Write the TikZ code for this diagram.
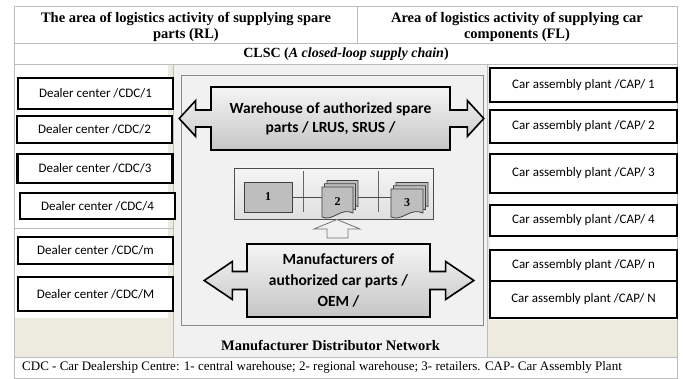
\documentclass[tikz,border=0pt]{standalone}
\usepackage{fontspec}
\setmainfont{Liberation Serif}
\newfontfamily\calibri{Carlito}
\usepackage{xcolor}
\definecolor{tablegrid}{HTML}{BDBDBD}
\definecolor{creamcol}{HTML}{EDEADF}
\definecolor{netgray}{HTML}{F1F1F1}
\definecolor{framegray}{HTML}{8A8A8A}
\definecolor{storegray}{HTML}{BEBEBE}
\usetikzlibrary{arrows.meta,positioning,shapes.arrows,calc}

\tikzset{
  dealerbox/.style={draw=black,line width=2.3pt,fill=white,minimum width=155pt,inner sep=0pt,
    font=\calibri\fontsize{13}{15}\selectfont},
  plantbox/.style={draw=black,line width=2.6pt,fill=white,minimum width=187pt,inner sep=0pt,
    font=\calibri\fontsize{13}{15}\selectfont},
  flowarrow/.style={arrow box,draw=black,line width=1.6pt,top color=gray!8,bottom color=gray!45,
    align=center,inner sep=0pt,font=\calibri\bfseries\fontsize{15.5}{19}\selectfont},
  headtext/.style={align=center,inner sep=0pt,font=\bfseries\fontsize{14.5}{16}\selectfont},
  page/.style={draw=black!75,line width=0.8pt,fill=storegray},
  storenum/.style={inner sep=0pt,font=\bfseries\fontsize{12}{14}\selectfont},
}

% one sheet with a wavy lower edge
\newcommand{\docsheet}[4]{%
  \filldraw[page] (#1,#2) -- (#1+#3,#2) -- (#1+#3,#2+#4-4)
    .. controls (#1+0.6*#3,#2+#4-10) and (#1+0.35*#3,#2+#4+5) .. (#1,#2+#4) -- cycle;}
\newcommand{\docstack}[4]{%
  \docsheet{#1+5}{#2-6.5}{#3}{#4}\docsheet{#1+2.5}{#2-3.25}{#3}{#4}\docsheet{#1}{#2}{#3}{#4}}

\begin{document}
\begin{tikzpicture}[x=1pt,y=-1pt]
  \useasboundingbox (0,0) rectangle (683,379);
  \fill[white] (0,0) rectangle (683,379);

  % table background
  \fill[creamcol] (14,64) rectangle (173,357);
  \fill[white] (14,64) rectangle (168,318);
  \fill[creamcol] (487,64) rectangle (677,357);
  \fill[white] (490,64) rectangle (677,320);
  \fill[netgray] (173,64) rectangle (487,357);

  % table grid
  \draw[tablegrid,line width=0.7pt] (14,6) rectangle (677,378);
  \draw[tablegrid,line width=0.7pt] (14,43) -- (677,43) (14,64) -- (677,64) (14,357) -- (677,357);
  \draw[tablegrid,line width=0.7pt] (357,6) -- (357,43) (173,64) -- (173,357) (487,64) -- (487,357);
  \draw[tablegrid,line width=0.7pt] (14,228) -- (173,228);

  % headings
  \node[headtext] (rlhead) at (186,26.5) {The area of logistics activity of supplying spare\\parts (RL)};
  \node[headtext] (flhead) at (517,26.5) {Area of logistics activity of supplying car\\components (FL)};
  \node[headtext,font=\bfseries\fontsize{14}{16}\selectfont] (clsc) at (346,54)
    {CLSC (\textit{A closed-loop supply chain})};

  % manufacturer distributor network
  \draw[framegray,fill=netgray,line width=0.8pt] (181,75) rectangle (483,325);
  \node[headtext] (mdn) at (330.5,345) {Manufacturer Distributor Network};

  \node[flowarrow,minimum width=239pt,minimum height=63pt,
    arrow box arrows={east:33pt,west:31pt},arrow box shaft width=17pt,
    arrow box head extend=9.5pt,arrow box tip angle=95] (warehouse) at (330.5,118.5)
    {Warehouse of authorized spare\\parts / LRUS, SRUS /};
  \node[flowarrow,font=\calibri\bfseries\fontsize{15.5}{21}\selectfont,
    minimum width=183pt,minimum height=73pt,
    arrow box arrows={east:43pt,west:42pt},arrow box shaft width=18pt,
    arrow box head extend=10pt,arrow box tip angle=68] (oem) at (338.5,280.5)
    {Manufacturers of\\authorized car parts /\\OEM /};

  % distribution levels
  \node[draw=black!70,line width=0.8pt,top color=gray!8,bottom color=gray!25,
    minimum width=199pt,minimum height=51pt] (stores) at (333.5,193.5) {};
  \draw[black!60,line width=0.7pt] (303,171) -- (303,212) (378,171) -- (378,212);
  \docstack{322}{187}{31}{30}
  \docstack{391}{189}{32}{28}
  \node[draw=black!75,line width=0.8pt,fill=storegray,minimum width=48pt,minimum height=30pt,
    storenum] (store1) at (268,197) {1};
  \node[minimum width=31pt,minimum height=30pt,storenum] (store2) at (337.5,202) {2};
  \node[minimum width=32pt,minimum height=28pt,storenum] (store3) at (407,203) {3};
  \draw[black!70,line width=0.7pt] (store1.east) -- (store1.east -| store2.west);
  \draw[black!70,line width=0.7pt] ($(store2.east |- store1.east)+(5,0)$) -- (store3.west |- store1.east);
  \filldraw[fill=gray!12,draw=black!55,line width=0.8pt] (314,229) -- (337,219.5) -- (360,229)
    -- (348,229) -- (348,238) -- (327,238) -- (327,229) -- cycle;

  % dealer centres
  \node[dealerbox,minimum height=31pt] (cdc1) at (95.5,93.5) {Dealer center /CDC/1};
  \node[dealerbox,minimum height=27pt] (cdc2) at (94.5,129.5) {Dealer center /CDC/2};
  \node[dealerbox,minimum height=29pt] (cdc3) at (95,168.5) {Dealer center /CDC/3};
  \node[dealerbox,minimum height=26pt] (cdc4) at (97.5,206) {Dealer center /CDC/4};
  \node[dealerbox,minimum height=27pt] (cdcm) at (95.5,250.5) {Dealer center /CDC/m};
  \node[dealerbox,minimum height=34pt] (cdcM) at (95.5,294) {Dealer center /CDC/M};

  % assembly plants
  \node[plantbox,minimum height=34pt] (cap1) at (583.5,85) {Car assembly plant /CAP/ 1};
  \node[plantbox,minimum height=33pt] (cap2) at (583.5,126.5) {Car assembly plant /CAP/ 2};
  \node[plantbox,minimum height=39pt] (cap3) at (583.5,173.5) {Car assembly plant /CAP/ 3};
  \node[plantbox,minimum height=31pt] (cap4) at (583.5,220.5) {Car assembly plant /CAP/ 4};
  \node[plantbox,minimum height=31pt] (capn) at (583.5,265.5) {Car assembly plant /CAP/ n};
  \node[plantbox,minimum height=37pt] (capN) at (583.5,299.5) {Car assembly plant /CAP/ N};

  % footnote
  \node[anchor=west,inner sep=0pt,font=\fontsize{13}{15}\selectfont] (note) at (22,367.5)
    {CDC - Car Dealership Centre: 1- central warehouse; 2- regional warehouse; 3- retailers. CAP- Car Assembly Plant};
\end{tikzpicture}
\end{document}
